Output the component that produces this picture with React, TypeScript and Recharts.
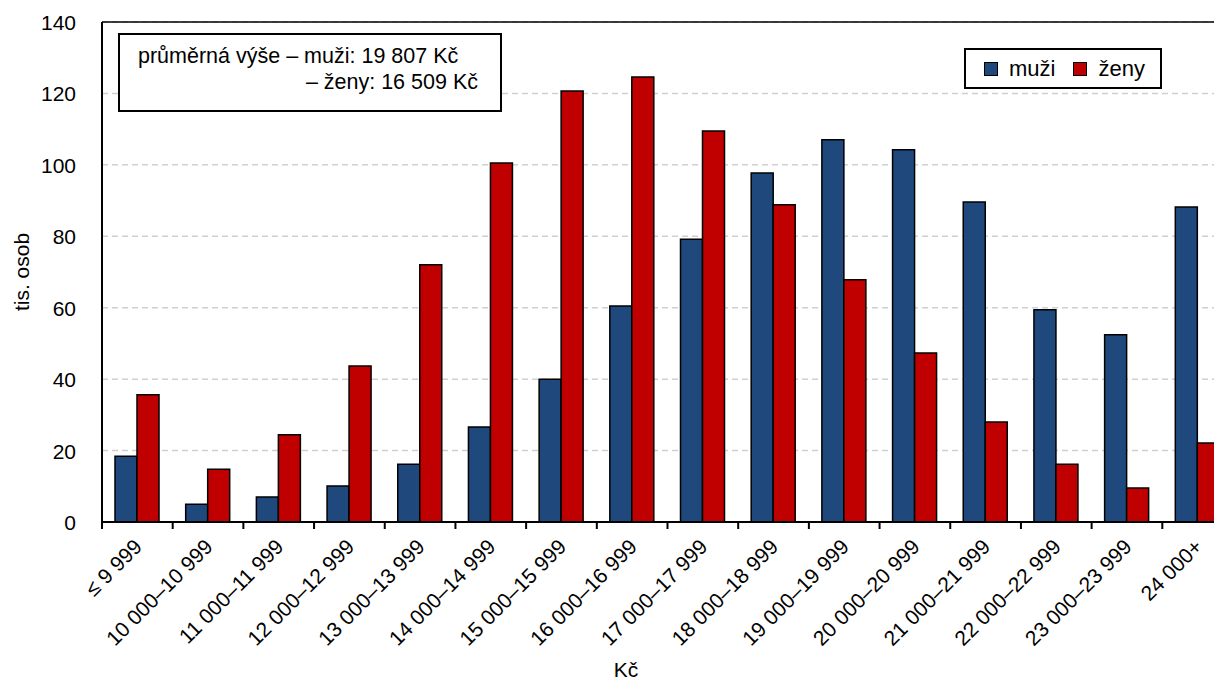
import React from 'react';
import { BarChart, Bar, XAxis, YAxis, CartesianGrid, ReferenceLine, Label } from 'recharts';

const categories = ['≤ 9 999', '10 000–10 999', '11 000–11 999', '12 000–12 999', '13 000–13 999', '14 000–14 999', '15 000–15 999', '16 000–16 999', '17 000–17 999', '18 000–18 999', '19 000–19 999', '20 000–20 999', '21 000–21 999', '22 000–22 999', '23 000–23 999', '24 000+'];
const muzi = [18.4, 5.0, 7.0, 10.1, 16.2, 26.6, 40.0, 60.5, 79.2, 97.7, 107.0, 104.2, 89.6, 59.4, 52.4, 88.2];
const zeny = [35.6, 14.8, 24.4, 43.7, 72.0, 100.5, 120.7, 124.6, 109.5, 88.8, 67.8, 47.3, 28.0, 16.2, 9.5, 22.1];
const yTicks = [0, 20, 40, 60, 80, 100, 120, 140];

const data = categories.map((c, i) => ({ name: c, muzi: muzi[i], zeny: zeny[i] }));

const FONT = '"Liberation Sans", Arial, sans-serif';
const FS = 21;
const BLUE = '#1F497D';
const RED = '#C00000';

const PLOT_W = 1131;
const BAND = PLOT_W / categories.length;

const XTick = (props: any) => {
  const { x, y, payload } = props;
  return (
    <g>
      <line x1={x - BAND / 2} y1={y - 8} x2={x - BAND / 2} y2={y - 1} stroke="#000" strokeWidth={2} />
      <text
        x={x + 6}
        y={y + 18}
        textAnchor="end"
        transform={`rotate(-45, ${x + 6}, ${y + 18})`}
        fontSize={FS}
        fontFamily={FONT}
        fill="#000"
      >
        {payload.value}
      </text>
    </g>
  );
};

const YTick = (props: any) => {
  const { x, y, payload } = props;
  return (
    <text x={x - 18} y={y + 8} textAnchor="end" fontSize={FS} fontFamily={FONT} fill="#000">
      {payload.value}
    </text>
  );
};

const YLabel = () => (
  <text x={21} y={264} textAnchor="middle" transform="rotate(-90, 21, 264)" fontSize={FS} fontFamily={FONT} fill="#000">
    tis. osob
  </text>
);

const XLabel = () => (
  <text x={618} y={669} textAnchor="middle" fontSize={FS} fontFamily={FONT} fill="#000">
    Kč
  </text>
);

export default function App() {
  return (
    <div style={{ position: 'relative', width: 1214, height: 673, overflow: 'hidden' }}>
      <style>{'html,body{overflow:hidden}'}</style>
      <BarChart
        width={1240}
        height={673}
        data={data}
        margin={{ top: 14, right: 15, bottom: 0, left: 0 }}
        barGap={0}
        barSize={22}
      >
        <CartesianGrid vertical={false} stroke="#D0D0D0" strokeDasharray="6 4" strokeWidth={1.5} />
        <ReferenceLine y={140} stroke="#000" strokeWidth={1.5} />
        <XAxis
          dataKey="name"
          interval={0}
          tick={<XTick />}
          tickLine={false}
          axisLine={{ stroke: '#000', strokeWidth: 2 }}
          height={159}
        >
          <Label content={<XLabel />} />
        </XAxis>
        <YAxis
          width={94}
          domain={[0, 140]}
          ticks={yTicks}
          tick={<YTick />}
          tickLine={false}
          axisLine={{ stroke: '#000', strokeWidth: 2 }}
        >
          <Label content={<YLabel />} />
        </YAxis>
        <Bar dataKey="muzi" fill={BLUE} stroke="#000" strokeWidth={1.5} isAnimationActive={false} />
        <Bar dataKey="zeny" fill={RED} stroke="#000" strokeWidth={1.5} isAnimationActive={false} />
      </BarChart>
      <div
        style={{
          position: 'absolute',
          left: 110,
          top: 25,
          width: 384,
          height: 79,
          border: '2px solid #000',
          background: '#fff',
          boxSizing: 'border-box',
          fontFamily: FONT,
          fontSize: 21.5,
          color: '#000',
          lineHeight: '26px',
          padding: '8px 0 0 18px',
        }}
      >
        <div>průměrná výše – muži: 19 807 Kč</div>
        <div style={{ textAlign: 'right', paddingRight: 22 }}>– ženy: 16 509 Kč</div>
      </div>
      <div
        style={{
          position: 'absolute',
          left: 956,
          top: 40,
          width: 198,
          height: 41,
          border: '2px solid #000',
          background: '#fff',
          boxSizing: 'border-box',
          fontFamily: FONT,
          fontSize: 22,
          color: '#000',
          display: 'flex',
          alignItems: 'center',
          paddingLeft: 18,
        }}
      >
        <span style={{ width: 12, height: 12, background: BLUE, border: '1.5px solid #000', display: 'inline-block', flexShrink: 0 }} />
        <span style={{ marginLeft: 11 }}>muži</span>
        <span style={{ width: 12, height: 12, background: RED, border: '1.5px solid #000', display: 'inline-block', marginLeft: 18, flexShrink: 0 }} />
        <span style={{ marginLeft: 11 }}>ženy</span>
      </div>
    </div>
  );
}
